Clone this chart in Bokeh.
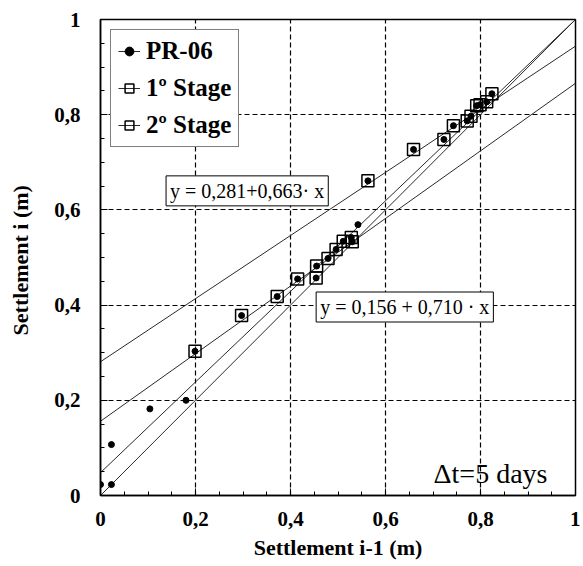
from bokeh.plotting import figure
from bokeh.models import (Legend, LegendItem, Label, FixedTicker, Range1d)
from bokeh.embed import file_html
from bokeh.resources import INLINE

# ---- data ----
pr06_x = [0.0, 0.023, 0.023, 0.104, 0.180, 0.199, 0.297, 0.372, 0.415, 0.454, 0.455, 0.479,
          0.496, 0.511, 0.528, 0.530, 0.542, 0.563, 0.659, 0.723, 0.743, 0.772, 0.780,
          0.792, 0.799, 0.813, 0.824]
pr06_y = [0.023, 0.023, 0.107, 0.182, 0.200, 0.303, 0.378, 0.418, 0.455, 0.457, 0.482, 0.498,
          0.517, 0.534, 0.542, 0.533, 0.569, 0.661, 0.727, 0.748, 0.777, 0.787, 0.797,
          0.819, 0.821, 0.827, 0.844]

stage1_x = [0.199, 0.297, 0.372, 0.415, 0.454, 0.455, 0.479, 0.496, 0.511, 0.528, 0.530]
stage1_y = [0.303, 0.378, 0.418, 0.455, 0.457, 0.482, 0.498, 0.517, 0.534, 0.542, 0.533]

stage2_x = [0.563, 0.659, 0.723, 0.743, 0.772, 0.780, 0.792, 0.799, 0.813, 0.824]
stage2_y = [0.661, 0.727, 0.748, 0.777, 0.787, 0.797, 0.819, 0.821, 0.827, 0.844]

# fitted straight lines y = a + b x
fit_intercepts = [0.0, 0.048, 0.156, 0.281]
fit_slopes = [1.0, 0.952, 0.710, 0.663]
fit_x_range = [0.0, 1.0]

tick_values = [0, 0.2, 0.4, 0.6, 0.8, 1]
tick_labels = ["0", "0,2", "0,4", "0,6", "0,8", "1"]
minor_values = [0.05, 0.1, 0.15, 0.25, 0.3, 0.35, 0.45, 0.5, 0.55, 0.65, 0.7, 0.75, 0.85, 0.9, 0.95]
grid_values = [0.2, 0.4, 0.6, 0.8]

eq1_text = "y = 0,281+0,663· x"
eq2_text = "y = 0,156 + 0,710 · x"
dt_text = "Δt=5 days"

SERIF = "Liberation Serif"

p = figure(width=580, height=562, output_backend="svg", toolbar_location=None,
           x_range=Range1d(0, 1), y_range=Range1d(0, 1),
           min_border_left=100, min_border_right=5, min_border_top=19, min_border_bottom=66)
p.background_fill_color = "white"
p.border_fill_color = "white"
p.outline_line_color = "black"
p.outline_line_width = 1.5
p.outline_line_alpha = 1.0

# axes
for ax in (p.xaxis[0], p.yaxis[0]):
    ax.ticker = FixedTicker(ticks=tick_values, minor_ticks=minor_values)
    ax.major_label_overrides = {v: t for v, t in zip(tick_values, tick_labels)}
    ax.major_label_text_font = SERIF
    ax.major_label_text_font_style = "bold"
    ax.major_label_text_font_size = "21px"
    ax.major_label_text_color = "black"
    ax.axis_label_text_font = SERIF
    ax.axis_label_text_font_style = "bold"
    ax.axis_label_text_font_size = "22px"
    ax.axis_label_text_color = "black"
    ax.axis_line_color = "black"
    ax.axis_line_width = 1.5
    ax.major_tick_in = 7
    ax.major_tick_out = 0
    ax.minor_tick_in = 4
    ax.minor_tick_out = 0
    ax.major_tick_line_color = "black"
    ax.minor_tick_line_color = "black"

p.xaxis.axis_label = "Settlement i-1 (m)"
p.yaxis.axis_label = "Settlement i  (m)"
p.xaxis.major_label_standoff = 16
p.xaxis.axis_label_standoff = 6
p.yaxis.major_label_standoff = 20
p.yaxis.axis_label_standoff = 18
p.yaxis.major_label_orientation = "horizontal"

# grid
p.xgrid.ticker = FixedTicker(ticks=grid_values)
p.ygrid.ticker = FixedTicker(ticks=grid_values)
for g in (p.xgrid[0], p.ygrid[0]):
    g.grid_line_color = "black"
    g.grid_line_dash = "5 3"
    g.grid_line_width = 1.2

# fitted lines
fit_renderers = []
for a, b in zip(fit_intercepts, fit_slopes):
    r = p.line(x=fit_x_range, y=[a + b * xx for xx in fit_x_range], line_color="#2a2a2a", line_width=1)
    fit_renderers.append(r)

# markers
s1 = p.scatter(x=stage1_x, y=stage1_y, marker="square", size=12, fill_color=None,
               line_color="black", line_width=1.5)
s2 = p.scatter(x=stage2_x, y=stage2_y, marker="square", size=12, fill_color=None,
               line_color="black", line_width=1.5)
pr = p.scatter(x=pr06_x, y=pr06_y, marker="circle", size=6, fill_color="black", line_color="black")

legend = Legend(items=[
    LegendItem(label="PR-06", renderers=[fit_renderers[0], pr]),
    LegendItem(label="1º Stage", renderers=[fit_renderers[2], s1]),
    LegendItem(label="2º Stage", renderers=[fit_renderers[3], s2]),
], location="top_left")
legend.margin = 10
legend.padding = 7
legend.spacing = 9
legend.glyph_width = 22
legend.glyph_height = 24
legend.label_height = 24
legend.label_standoff = 6
legend.label_text_font = SERIF
legend.label_text_font_style = "bold"
legend.label_text_font_size = "25px"
legend.label_text_color = "black"
legend.border_line_color = "black"
legend.border_line_width = 1.5
legend.background_fill_color = "white"
legend.background_fill_alpha = 1.0
p.add_layout(legend)

# equation boxes
eq1 = Label(x=0.138, y=0.64, text=eq1_text, text_font=SERIF, text_font_size="20px",
            text_align="left", text_baseline="middle", text_color="black",
            border_line_color="black", border_line_width=1, background_fill_color="white",
            padding=4)
eq2 = Label(x=0.454, y=0.396, text=eq2_text, text_font=SERIF, text_font_size="20px",
            text_align="left", text_baseline="middle", text_color="black",
            border_line_color="black", border_line_width=1, background_fill_color="white",
            padding=4)
dt = Label(x=0.941, y=0.046, text=dt_text, text_font=SERIF, text_font_size="28px",
           text_align="right", text_baseline="alphabetic", text_color="black")
p.add_layout(eq1)
p.add_layout(eq2)
p.add_layout(dt)

open("out.html", "w").write(file_html(p, INLINE))
